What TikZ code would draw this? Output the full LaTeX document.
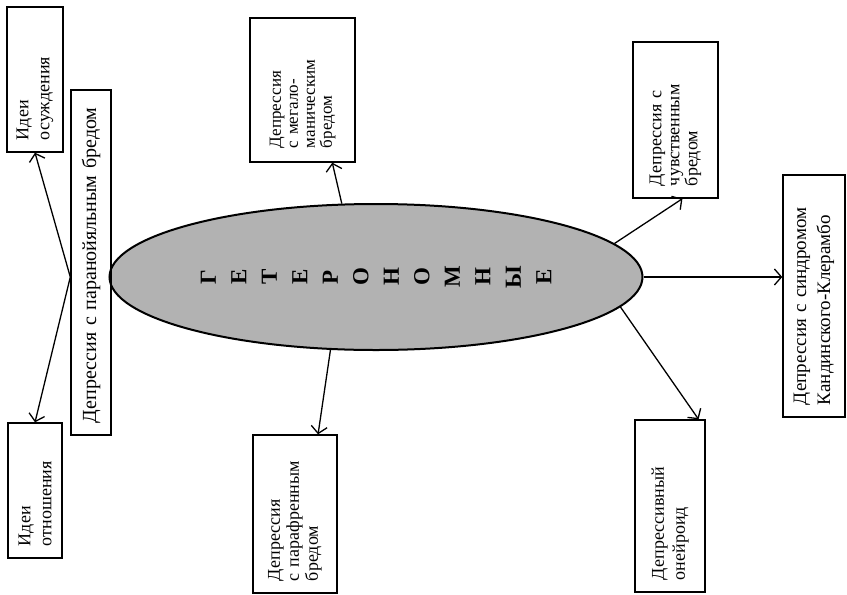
\documentclass[tikz,border=0pt]{standalone}
\usepackage{fontspec}
\setmainfont{Liberation Serif}
\usetikzlibrary{arrows.meta,shapes.geometric,calc}

\begin{document}
\begin{tikzpicture}[
    x=1pt, y=-1pt,
    box/.style={draw, line width=1.4pt, rotate=90, align=left, inner xsep=12pt, inner ysep=0pt, font=\fontsize{18}{21}\selectfont},
    line/.style={-{Straight Barb[length=7pt,width=16pt]}, line width=1.3pt}
]
\useasboundingbox (0,0) rectangle (847,595);
\node[ellipse, draw, line width=2pt, fill=black!30, minimum width=533pt, minimum height=146pt, inner sep=0pt] (ell) at (376,277) {};
\node[rotate=90, align=center, font=\bfseries\fontsize{23}{30.5}\selectfont] (word) at (ell.center) {Г\\Е\\Т\\Е\\Р\\О\\Н\\О\\М\\Н\\Ы\\Е};
\node[box, minimum width=145pt, minimum height=56pt, text width=121pt] (osuzh) at (35,79.5) {Идеи\\осуждения};
\node[box, minimum width=135pt, minimum height=54pt, text width=111pt] (otnosh) at (35,490.5) {Идеи\\отношения};
\node[box, minimum width=345pt, minimum height=40pt, text width=321pt, font=\fontsize{20}{24}\selectfont] (par) at (91,262.5) {Депрессия с паранойяльным бредом};
\node[box, minimum width=144pt, minimum height=105pt, inner xsep=14pt, text width=116pt, font=\fontsize{17}{17}\selectfont] (meg) at (302.5,90) {Депрессия\\с мегало-\\маническим\\бредом};
\node[box, minimum width=158pt, minimum height=84pt, text width=134pt, font=\fontsize{18}{19}\selectfont] (paraf) at (295,514) {Депрессия\\с парафренным\\бредом};
\node[box, minimum width=156pt, minimum height=85pt, text width=132pt, font=\fontsize{18}{18}\selectfont] (chuv) at (675.5,120) {Депрессия с\\чувственным\\бредом};
\node[box, minimum width=172pt, minimum height=70pt, text width=148pt] (oneir) at (670,506) {Депрессивный\\онейроид};
\node[box, minimum width=242pt, minimum height=62pt, text width=218pt, font=\fontsize{19}{24}\selectfont] (kand) at (814,296) {Депрессия с синдромом\\Кандинского-Клерамбо};
\draw[line] (par.north |- ell.center) -- (osuzh.west);
\draw[line] (par.north |- ell.center) -- (otnosh.east);
\draw[line] (ell.115) -- ($(meg.north west)!.78!(meg.south west)$);
\draw[line] (ell.238) -- ($(paraf.north east)!.77!(paraf.south east)$);
\draw[line] (ell.8) -- ($(chuv.north west)!.58!(chuv.south west)$);
\draw[line] (ell.east) -- (ell.east -| kand.north);
\draw[line] (ell.-7) -- ($(oneir.north east)!.9!(oneir.south east)$);
\end{tikzpicture}
\end{document}
